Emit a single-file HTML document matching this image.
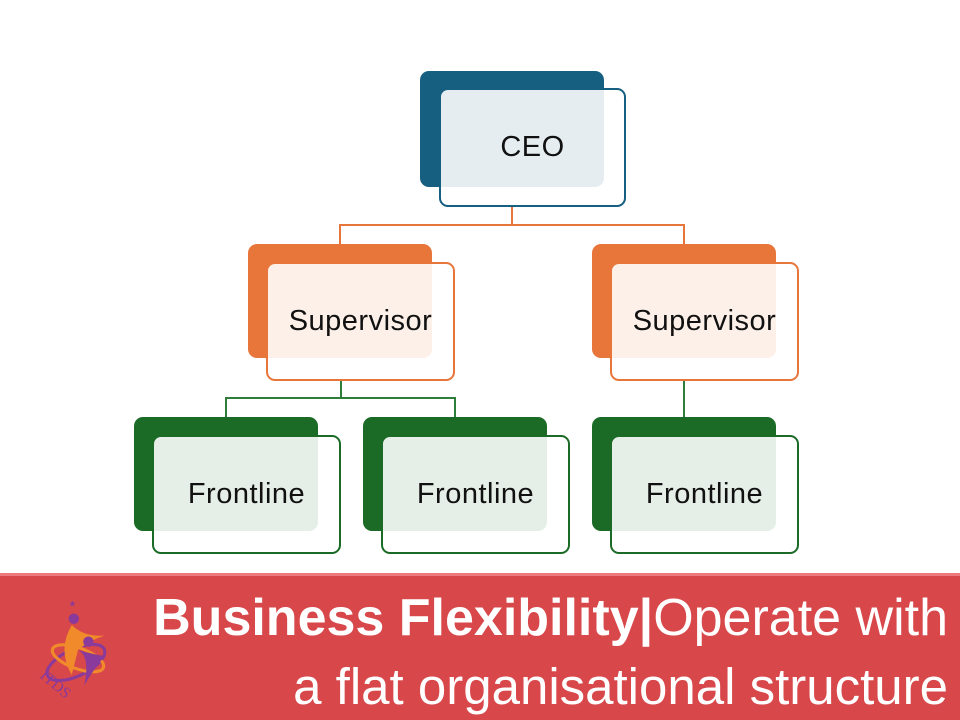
<!DOCTYPE html>
<html><head><meta charset="utf-8"><style>
body{margin:0;width:960px;height:720px;background:#fff;position:relative;overflow:hidden;font-family:"Liberation Sans",sans-serif}
.b{position:absolute;border-radius:9px;box-sizing:border-box}
.f{position:absolute;border-radius:9px;box-sizing:border-box;border:2px solid;display:flex;align-items:center;justify-content:center;font-size:29px;color:#111;letter-spacing:0.5px}
.l{position:absolute}
</style></head><body>
<!-- connectors -->
<div class="l" style="left:511px;top:207px;width:2px;height:19px;background:#e8763a"></div>
<div class="l" style="left:339px;top:224px;width:346px;height:2px;background:#e8763a"></div>
<div class="l" style="left:339px;top:224px;width:2px;height:20px;background:#e8763a"></div>
<div class="l" style="left:683px;top:224px;width:2px;height:20px;background:#e8763a"></div>
<div class="l" style="left:340px;top:381px;width:2px;height:18px;background:#2e7d3a"></div>
<div class="l" style="left:225px;top:397px;width:231px;height:2px;background:#2e7d3a"></div>
<div class="l" style="left:225px;top:397px;width:2px;height:20px;background:#2e7d3a"></div>
<div class="l" style="left:454px;top:397px;width:2px;height:20px;background:#2e7d3a"></div>
<div class="l" style="left:683px;top:381px;width:2px;height:36px;background:#2e7d3a"></div>

<!-- CEO -->
<div class="b" style="left:420px;top:71px;width:184px;height:116px;background:#175f81"></div>
<div class="f" style="left:439px;top:88px;width:187px;height:119px;border-color:#175f81;background:rgba(255,255,255,0.89)">CEO</div>
<!-- Supervisors -->
<div class="b" style="left:248px;top:244px;width:184px;height:114px;background:#e8763a"></div>
<div class="f" style="left:266px;top:262px;width:189px;height:119px;border-color:#e8763a;background:rgba(255,255,255,0.89)">Supervisor</div>
<div class="b" style="left:592px;top:244px;width:184px;height:114px;background:#e8763a"></div>
<div class="f" style="left:610px;top:262px;width:189px;height:119px;border-color:#e8763a;background:rgba(255,255,255,0.89)">Supervisor</div>
<!-- Frontline -->
<div class="b" style="left:134px;top:417px;width:184px;height:114px;background:#1b6b27"></div>
<div class="f" style="left:152px;top:435px;width:189px;height:119px;border-color:#1b6b27;background:rgba(255,255,255,0.89)">Frontline</div>
<div class="b" style="left:363px;top:417px;width:184px;height:114px;background:#1b6b27"></div>
<div class="f" style="left:381px;top:435px;width:189px;height:119px;border-color:#1b6b27;background:rgba(255,255,255,0.89)">Frontline</div>
<div class="b" style="left:592px;top:417px;width:184px;height:114px;background:#1b6b27"></div>
<div class="f" style="left:610px;top:435px;width:189px;height:119px;border-color:#1b6b27;background:rgba(255,255,255,0.89)">Frontline</div>

<!-- banner -->
<div class="l" style="left:0;top:573px;width:960px;height:147px;background:#d8474a;border-top:3px solid #ec7a7c;box-sizing:border-box"></div>
<svg class="l" style="left:36px;top:598px" width="84" height="104" viewBox="0 0 80 100">
<ellipse cx="38" cy="62" rx="30" ry="13" fill="none" stroke="#8a3a9a" stroke-width="3" transform="rotate(-25 38 62)"/>
<ellipse cx="40" cy="58" rx="26" ry="10" fill="none" stroke="#f08a2a" stroke-width="3" transform="rotate(20 40 58)"/>
<path d="M34 26 Q20 50 34 74 L40 50 Q52 40 66 36 Q46 38 34 26Z" fill="#f08a2a"/>
<circle cx="36" cy="20" r="5" fill="#8a3a9a"/>
<text x="31" y="8" font-size="8" fill="#8a3a9a">★</text>
<circle cx="50" cy="42" r="5" fill="#8a3a9a"/>
<path d="M40 50 Q52 56 46 84 Q58 64 66 56 Q54 54 40 50Z" fill="#8a3a9a"/>
<text x="4" y="88" font-size="15" fill="#8a3a9a" font-family="Liberation Serif" transform="rotate(40 20 80)">ITDS</text>
</svg>
<div class="l" style="left:40px;top:588px;width:908px;text-align:right;color:#fff;font-size:52px;line-height:60px;white-space:nowrap"><b>Business Flexibility</b><span style="font-weight:bold">|</span><span style="font-weight:300">Operate with</span></div>
<div class="l" style="left:40px;top:657px;width:908px;text-align:right;color:#fff;font-size:51px;line-height:60px;white-space:nowrap">a flat organisational structure</div>
</body></html>
